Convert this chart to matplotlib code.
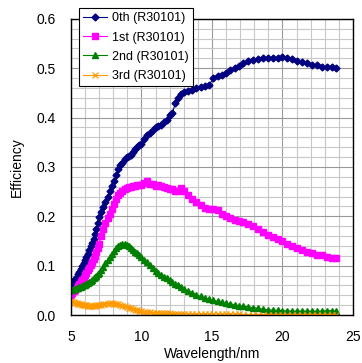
import matplotlib
matplotlib.use("Agg")
import matplotlib.pyplot as plt
from matplotlib.ticker import MultipleLocator

plt.rcParams["font.family"] = ["Liberation Sans", "DejaVu Sans"]
plt.rcParams["font.size"] = 10

# Wavelength (nm), shared by all four orders
wavelength = [
    5.0, 5.1, 5.2, 5.3, 5.4, 5.5, 5.6, 5.7, 5.8, 5.9, 6.0, 6.1, 6.2, 6.3, 6.4, 6.5, 6.6, 6.7, 6.8, 6.9, 7.0,
    7.15, 7.3, 7.45, 7.6, 7.75, 7.9, 8.05, 8.2, 8.35, 8.5, 8.65, 8.8, 8.95, 9.1, 9.25, 9.4, 9.55, 9.7, 9.85, 10.0,
    10.2, 10.4, 10.6, 10.8, 11.0, 11.2, 11.4, 11.6, 11.8, 12.0, 12.2, 12.4, 12.6, 12.8, 13.0,
    13.3, 13.6, 13.9, 14.2, 14.5, 14.8, 15.1, 15.4, 15.7, 16.0, 16.3, 16.6, 16.9,
    17.2, 17.55, 17.9, 18.25, 18.6, 18.95, 19.3, 19.65, 20.0, 20.35, 20.7, 21.05, 21.4, 21.75,
    22.1, 22.45, 22.8, 23.15, 23.5, 23.8,
]

eff_0th = [
    0.062, 0.066, 0.070, 0.074, 0.078, 0.083, 0.088, 0.093, 0.099, 0.105, 0.111, 0.117, 0.124, 0.131, 0.139,
    0.147, 0.155, 0.164, 0.174, 0.186, 0.198,
    0.209, 0.219, 0.229, 0.240, 0.252, 0.262, 0.272, 0.283, 0.295, 0.303, 0.309, 0.316, 0.320, 0.323, 0.325,
    0.330, 0.337, 0.341, 0.344, 0.347,
    0.356, 0.364, 0.369, 0.374, 0.380, 0.384, 0.386, 0.391, 0.396, 0.405, 0.410, 0.429, 0.440, 0.448, 0.451,
    0.454, 0.456, 0.459, 0.462, 0.464, 0.466, 0.480, 0.484, 0.486, 0.491, 0.496, 0.501, 0.505,
    0.511, 0.514, 0.517, 0.519, 0.521, 0.521, 0.520, 0.521, 0.522, 0.520, 0.519, 0.515, 0.512, 0.510,
    0.507, 0.506, 0.502, 0.503, 0.502, 0.501,
]

eff_1st = [
    0.040, 0.044, 0.048, 0.051, 0.055, 0.059, 0.063, 0.067, 0.071, 0.076, 0.081, 0.086, 0.091, 0.096, 0.101,
    0.107, 0.113, 0.120, 0.128, 0.136, 0.145,
    0.160, 0.175, 0.187, 0.196, 0.205, 0.215, 0.226, 0.236, 0.243, 0.248, 0.252, 0.255, 0.257, 0.259, 0.260,
    0.261, 0.262, 0.263, 0.263, 0.264,
    0.268, 0.271, 0.266, 0.265, 0.261, 0.264, 0.262, 0.259, 0.258, 0.256, 0.255, 0.251, 0.252, 0.257, 0.252,
    0.244, 0.236, 0.230, 0.222, 0.217, 0.215, 0.214, 0.212, 0.205, 0.200, 0.196, 0.192, 0.190,
    0.188, 0.184, 0.180, 0.174, 0.169, 0.163, 0.159, 0.154, 0.150, 0.145, 0.140, 0.136, 0.131, 0.128,
    0.125, 0.122, 0.121, 0.118, 0.115, 0.115,
]

eff_2nd = [
    0.050, 0.051, 0.052, 0.053, 0.054, 0.055, 0.056, 0.057, 0.058, 0.060, 0.061, 0.063, 0.065, 0.067, 0.069,
    0.072, 0.075, 0.078, 0.080, 0.083, 0.086,
    0.091, 0.098, 0.105, 0.111, 0.117, 0.124, 0.130, 0.135, 0.139, 0.141, 0.143, 0.143, 0.141, 0.139, 0.136,
    0.132, 0.128, 0.125, 0.121, 0.117,
    0.112, 0.107, 0.101, 0.095, 0.090, 0.086, 0.082, 0.078, 0.075, 0.071, 0.067, 0.063, 0.060, 0.057, 0.053,
    0.049, 0.045, 0.041, 0.038, 0.035, 0.032, 0.030, 0.028, 0.026, 0.024, 0.023, 0.021, 0.019,
    0.018, 0.017, 0.015, 0.014, 0.012, 0.011, 0.010, 0.0095, 0.009, 0.0085, 0.008, 0.008, 0.008, 0.008,
    0.008, 0.008, 0.008, 0.009, 0.009, 0.008,
]

eff_3rd = [
    0.028, 0.027, 0.026, 0.025, 0.024, 0.023, 0.022, 0.022, 0.021, 0.021, 0.020, 0.020, 0.019, 0.019, 0.019,
    0.019, 0.019, 0.019, 0.020, 0.020, 0.020,
    0.021, 0.022, 0.023, 0.023, 0.024, 0.024, 0.023, 0.023, 0.022, 0.021, 0.019, 0.018, 0.017, 0.015, 0.014,
    0.012, 0.011, 0.010, 0.009, 0.008,
    0.007, 0.006, 0.006, 0.005, 0.005, 0.005, 0.004, 0.004, 0.004, 0.004, 0.003, 0.003, 0.003, 0.003, 0.003,
    0.002, 0.002, 0.002, 0.002, 0.002, 0.002, 0.002, 0.002, 0.002, 0.002, 0.002, 0.002, 0.002,
    0.001, 0.001, 0.001, 0.001, 0.001, 0.001, 0.001, 0.001, 0.001, 0.001, 0.001, 0.001, 0.001, 0.001,
    0.001, 0.001, 0.001, 0.001, 0.001, 0.001,
]

labels = ["0th (R30101)", "1st (R30101)", "2nd (R30101)", "3rd (R30101)"]

fig = plt.figure(figsize=(3.62, 3.63), dpi=100)
ax = fig.add_axes([0.196, 0.132, 0.779, 0.816])

ax.plot(wavelength, eff_0th, color="#000080", marker="D", markersize=3.5, lw=0.8, label=labels[0])
ax.plot(wavelength, eff_1st, color="#FF00FF", marker="s", markersize=4, lw=0.8, label=labels[1])
ax.plot(wavelength, eff_2nd, color="#008000", marker="^", markersize=4.5, lw=0.8, label=labels[2])
ax.plot(wavelength, eff_3rd, color="#FF9900", marker="x", markersize=4, mew=0.9, lw=0.8, label=labels[3])

ax.set_xlim(5, 25)
ax.set_ylim(0, 0.6)
ax.xaxis.set_major_locator(MultipleLocator(5))
ax.xaxis.set_minor_locator(MultipleLocator(1))
ax.yaxis.set_major_locator(MultipleLocator(0.1))
ax.yaxis.set_minor_locator(MultipleLocator(0.02))
ax.yaxis.set_major_formatter(plt.FormatStrFormatter("%.1f"))
ax.grid(which="major", color="#999999", lw=0.8)
ax.grid(which="minor", color="#c8c8c8", lw=0.8)
ax.set_axisbelow(True)
ax.tick_params(which="both", length=0)
ax.tick_params(axis="y", pad=11, labelsize=10)
ax.tick_params(axis="x", pad=11, labelsize=10)
for s in ax.spines.values():
    s.set_color("black")
    s.set_linewidth(1)

ax.set_xlabel("Wavelength/nm", labelpad=2, fontsize=10)
ax.set_ylabel("Efficiency", labelpad=9, fontsize=10)

leg = fig.legend(loc="upper left", bbox_to_anchor=(0.218, 0.978), fancybox=False, framealpha=1,
                 edgecolor="black", borderaxespad=0, handlelength=1.9, labelspacing=0.58,
                 borderpad=0.35, handletextpad=0.4, fontsize=9)
leg.get_frame().set_linewidth(0.8)

fig.savefig("out.png", dpi=100)
